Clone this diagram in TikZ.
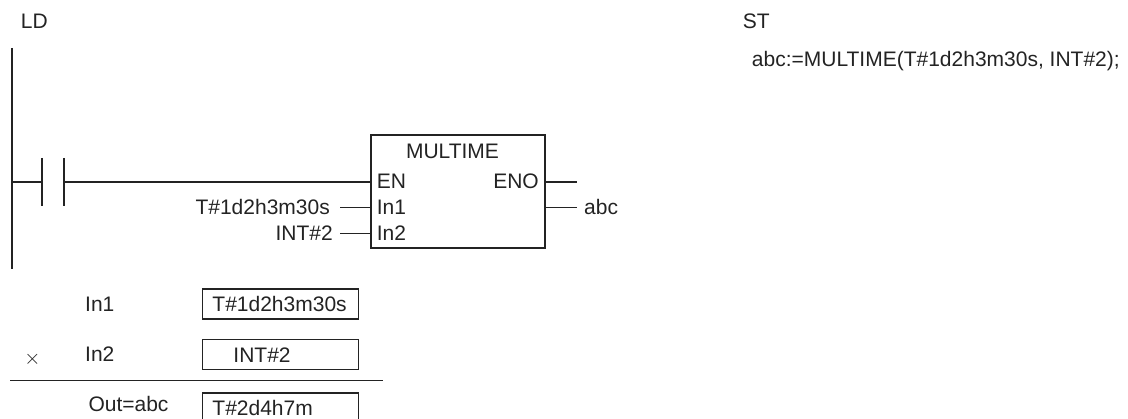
\documentclass[tikz,border=0pt]{standalone}
\usepackage{fontspec}
\setmainfont{Liberation Sans}
\definecolor{ink}{RGB}{35,35,35}
\tikzset{
  lbl/.style={inner sep=0pt, font=\fontsize{21}{24}\selectfont, text=ink},
  wire/.style={draw=ink, line width=1.3pt},
  railline/.style={draw=ink, line width=2pt},
  cbar/.style={draw=ink, line width=2pt},
  fbox/.style={draw=ink, line width=1.8pt, minimum width=174pt, minimum height=113pt, inner sep=0pt},
  vbox/.style={draw=ink, line width=1.5pt, minimum height=30pt, inner xsep=10pt, inner ysep=0pt,
     text width=136pt, align=left, text height=15pt, text depth=0pt, anchor=north west,
     font=\fontsize{21}{24}\selectfont, text=ink},
}
\begin{document}
\begin{tikzpicture}[x=1pt,y=-1pt]
\useasboundingbox (0,0) rectangle (1128,419);
% headers
\node[lbl, anchor=base west] (ld) at (20.7,28.3) {LD};
\node[lbl, anchor=base west] (st) at (742.7,28.3) {ST};
\node[lbl, anchor=base west] (stcode) at (751.7,66.5) {abc:=MULTIME(T\#1d2h3m30s, INT\#2);};
% rail
\coordinate (railtop) at (12,48);
\coordinate (railbot) at (12,269);
\draw[railline] (railtop) -- (railbot);
% contact
\coordinate (r0) at (12,182);
\coordinate (c1) at (42,182);
\coordinate (c2) at (64,182);
\draw[wire] (r0) -- (c1);
\draw[cbar] ([yshift=24pt]c1) -- ([yshift=-24pt]c1);
\draw[cbar] ([yshift=24pt]c2) -- ([yshift=-24pt]c2);
% function block
\node[fbox] (fb) at (458,191.6) {};
\coordinate (pEN) at (371,182);
\coordinate (pIn1) at (371,207.3);
\coordinate (pIn2) at (371,233.3);
\coordinate (pENO) at (545,182);
\coordinate (pOut) at (545,207.3);
\draw[wire] (c2) -- (pEN);
\node[lbl, anchor=base] (title) at (452.5,158.3) {MULTIME};
\node[lbl, anchor=base west] (en) at (376.7,189) {EN};
\node[lbl, anchor=base west] (in1) at (376.7,214.3) {In1};
\node[lbl, anchor=base west] (in2) at (376.7,240.3) {In2};
\node[lbl, anchor=base east] (eno) at (539,189) {ENO};
% inputs
\coordinate (in1end) at (340,207.3);
\coordinate (in2end) at (340,233.3);
\draw[wire] (in1end) -- (pIn1);
\draw[wire] (in2end) -- (pIn2);
\node[lbl, anchor=base east] (v1) at (330,214.3) {T\#1d2h3m30s};
\node[lbl, anchor=base east] (v2) at (333,240.3) {INT\#2};
% outputs
\coordinate (enoend) at (577,182);
\coordinate (outend) at (577,207.3);
\draw[wire] (pENO) -- (enoend);
\draw[wire] (pOut) -- (outend);
\node[lbl, anchor=base west] (vout) at (584,214.3) {abc};
% calculation
\node[lbl, anchor=base west] (l1) at (85,311.5) {In1};
\node[vbox] (b1) at (201.7,288.3) {T\#1d2h3m30s};
\node[lbl, anchor=center] (times) at (32.5,359) {$\times$};
\node[lbl, anchor=base west] (l2) at (85,362) {In2};
\node[vbox] (b2) at (201.7,339) {\hspace*{21pt}INT\#2};
\coordinate (sepL) at (10,380.5);
\coordinate (sepR) at (383,380.5);
\draw[wire] (sepL) -- (sepR);
\node[lbl, anchor=base west] (l3) at (88.3,411.7) {Out=abc};
\node[vbox] (b3) at (201.7,392.3) {T\#2d4h7m};
\end{tikzpicture}
\end{document}
